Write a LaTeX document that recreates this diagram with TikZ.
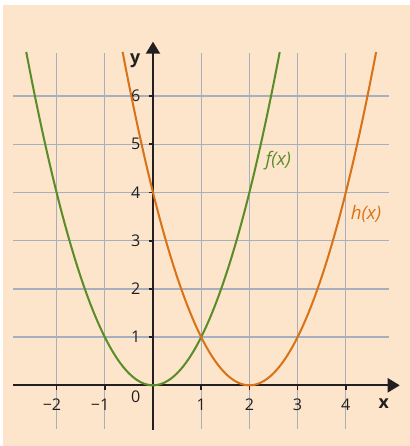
\documentclass[tikz,border=0pt]{standalone}
\usepackage{fontspec}
\setmainfont{Open Sans}
\usetikzlibrary{positioning,arrows.meta}
\definecolor{peach}{HTML}{FDE5CB}
\definecolor{gridgray}{HTML}{A6AFBE}
\definecolor{fgreen}{HTML}{5B8C2A}
\definecolor{horange}{HTML}{D87319}
\definecolor{inkblack}{HTML}{231F20}

\begin{document}
\begin{tikzpicture}[
    x=1cm, y=1cm,
    every node/.style={font=\fontsize{9.5}{11}\selectfont, text=inkblack},
    gridline/.style={draw=gridgray, line width=0.8pt},
    axis/.style={draw=inkblack, line width=1.3pt, -{Triangle[length=2.5mm, width=2.9mm]}},
    tick/.style={draw=inkblack, line width=1pt},
    curve/.style={line width=1.2pt},
    fnlabel/.style={font=\fontsize{11}{13}\selectfont\itshape}
]
% page and background
\useasboundingbox (-3.174,-1.259) rectangle (5.332,7.994);
\fill[peach] (-3.112,-1.259) rectangle (5.332,7.89);

% grid
\foreach \i in {-2,-1,1,2,3,4}
  \draw[gridline] (\i,-0.9) -- (\i,6.9);
\foreach \j in {1,...,6}
  \draw[gridline] (-2.9,\j) -- (4.9,\j);

% axes
\coordinate (xs) at (-2.9,0);
\coordinate (xe) at (5.12,0);
\coordinate (ys) at (0,-0.92);
\coordinate (ye) at (0,7.13);
\draw[axis] (xs) -- (xe);
\draw[axis] (ys) -- (ye);
\node[font=\fontsize{10.5}{12}\selectfont\bfseries] (xlab) at (4.79,-0.37) {x};
\node[font=\fontsize{10.5}{12}\selectfont\bfseries] (ylab) at (-0.37,6.74) {y};

% ticks and numbers
\foreach \i/\t in {-2/\llap{−}2,-1/\llap{−}1,1/1,2/2,3/3,4/4} {
  \draw[tick] (\i,0) -- (\i,-0.09);
  \node (xn\i) at (\i,-0.40) {\t};
}
\foreach \j in {1,...,6} {
  \draw[tick] (0,\j) -- (-0.09,\j);
  \node (yn\j) at (-0.36,\j) {\j};
}
\node (orig) at (-0.36,-0.24) {0};

% graphs
\draw[curve, fgreen] plot[domain=-2.63:2.63, samples=80] (\x,{\x*\x});
\draw[curve, horange] plot[domain=-0.63:4.63, samples=80] (\x,{(\x-2)*(\x-2)});
\node[fnlabel, text=fgreen] (flab) at (2.60,4.67) {f(x)};
\node[fnlabel, text=horange] (hlab) at (4.42,3.55) {h(x)};
\end{tikzpicture}
\end{document}
